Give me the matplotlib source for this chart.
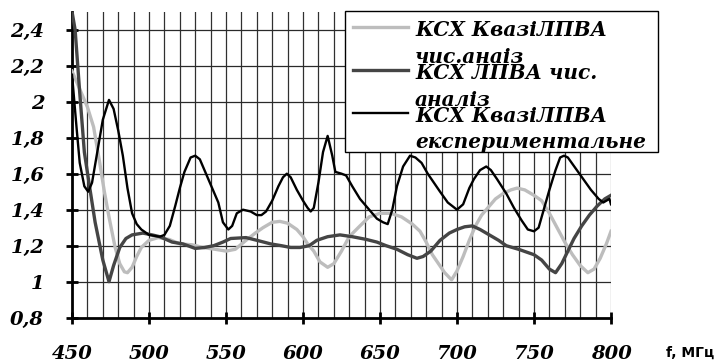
import matplotlib
matplotlib.use("Agg")
import matplotlib.pyplot as plt
from matplotlib.lines import Line2D
from matplotlib.patches import Rectangle

# --- data ---
f_exp = [450, 453, 455, 458, 460.5, 463, 466, 470, 474, 477, 480, 483, 486, 489, 492, 495,
         500, 507, 510, 513.5, 517, 520, 523, 527, 530, 533, 537, 541, 545, 548, 551.5, 554,
         557, 561, 566, 570, 573, 576, 580, 584, 587, 589.5, 592, 596, 600, 603, 605, 607,
         610, 613, 616, 619, 621, 625, 628, 632, 637, 643, 648, 652, 655, 658, 661, 665,
         669.5, 673, 677, 681, 685, 689, 694, 700, 704, 708, 711, 715, 719, 722, 726, 732,
         737, 742, 746, 750, 753, 756, 760, 764, 767, 769.5, 772, 777, 782, 787, 792, 795,
         797, 799, 800]
ksv_exp = [2.15, 1.85, 1.66, 1.53, 1.50, 1.55, 1.70, 1.90, 2.01, 1.96, 1.84, 1.70, 1.52, 1.38,
           1.32, 1.29, 1.26, 1.25, 1.26, 1.31, 1.42, 1.52, 1.61, 1.69, 1.70, 1.68, 1.60, 1.52,
           1.44, 1.33, 1.29, 1.31, 1.38, 1.40, 1.39, 1.37, 1.37, 1.39, 1.45, 1.53, 1.58, 1.60,
           1.58, 1.51, 1.45, 1.41, 1.39, 1.41, 1.55, 1.72, 1.81, 1.70, 1.61, 1.60, 1.59, 1.53,
           1.46, 1.40, 1.35, 1.33, 1.32, 1.40, 1.53, 1.64, 1.70, 1.69, 1.66, 1.60, 1.55, 1.50,
           1.44, 1.40, 1.43, 1.52, 1.57, 1.62, 1.64, 1.62, 1.57, 1.49, 1.41, 1.34, 1.29, 1.28,
           1.30, 1.39, 1.51, 1.62, 1.69, 1.70, 1.69, 1.63, 1.57, 1.51, 1.46, 1.44, 1.45, 1.46,
           1.43]

f_lpva = [450, 452, 455, 458, 461, 465, 470, 474, 477, 481, 485, 489, 496, 502, 507, 515, 522,
          530, 536, 542, 548, 553, 563, 570, 579, 586, 592, 598, 604, 609, 616, 624, 632, 641,
          648, 654, 661, 668, 674, 678, 683, 689, 695, 700, 705, 710, 715, 721, 727, 732, 740,
          750, 755, 760, 764, 768, 772, 776, 781, 786, 791, 796, 800]
ksv_lpva = [2.50, 2.40, 2.05, 1.72, 1.55, 1.33, 1.12, 1.00, 1.09, 1.19, 1.24, 1.26, 1.27, 1.26,
            1.25, 1.22, 1.21, 1.185, 1.19, 1.20, 1.22, 1.24, 1.245, 1.23, 1.21, 1.20, 1.19, 1.19,
            1.20, 1.23, 1.25, 1.26, 1.25, 1.235, 1.22, 1.20, 1.18, 1.15, 1.13, 1.14, 1.17, 1.23,
            1.27, 1.29, 1.305, 1.31, 1.29, 1.26, 1.23, 1.20, 1.18, 1.15, 1.12, 1.07, 1.05, 1.10,
            1.17, 1.24, 1.31, 1.37, 1.42, 1.46, 1.48]

f_kvazi = [450, 455, 460, 464, 468, 471, 474, 478, 481, 484, 486, 489, 492, 495, 500, 506, 513,
           520, 528, 535, 543, 550, 556, 563, 569, 574, 580, 585, 590, 596, 600, 603, 607, 611,
           616, 620, 625, 630, 637, 643, 650, 657, 664, 671, 676, 680, 684, 688, 692, 696.5, 700,
           704, 708, 712, 716, 720, 725, 730, 735, 739, 744, 750, 755, 760, 765, 770, 775, 780,
           785, 789, 793, 797, 800]
ksv_kvazi = [2.17, 2.07, 1.97, 1.86, 1.66, 1.50, 1.36, 1.19, 1.10, 1.055, 1.05, 1.08, 1.14,
             1.19, 1.23, 1.245, 1.235, 1.21, 1.205, 1.19, 1.18, 1.17, 1.18, 1.23, 1.27, 1.30,
             1.33, 1.335, 1.325, 1.29, 1.25, 1.21, 1.17, 1.11, 1.08, 1.10, 1.17, 1.25, 1.31,
             1.36, 1.38, 1.38, 1.36, 1.32, 1.28, 1.22, 1.15, 1.10, 1.05, 1.01, 1.06, 1.14, 1.23,
             1.31, 1.37, 1.41, 1.46, 1.49, 1.51, 1.52, 1.51, 1.48, 1.45, 1.38, 1.30, 1.22, 1.15,
             1.09, 1.05, 1.07, 1.13, 1.21, 1.28]

labels = ["КСХ КвазіЛПВА\nчис.анаіз", "КСХ ЛПВА чис.\nаналіз", "КСХ КвазіЛПВА\nекспериментальне"]
x_ticks = [450, 500, 550, 600, 650, 700, 750, 800]
y_ticks = [0.8, 1.0, 1.2, 1.4, 1.6, 1.8, 2.0, 2.2, 2.4]
y_tick_labels = ["0,8", "1", "1,2", "1,4", "1,6", "1,8", "2", "2,2", "2,4"]

serif = ["DejaVu Serif"]
W, H = 721, 363

fig = plt.figure(figsize=(7.21, 3.63), dpi=100)
ax = fig.add_axes([0.0999, 0.1248, 0.7475, 0.843])

# grid every 10 MHz / 0.2
for xv in range(460, 801, 10):
    ax.axvline(xv, color="#303030" if xv < 800 else "#909090", lw=0.9, zorder=1)
for yv in y_ticks[1:]:
    ax.axhline(yv, color="#2a2a2a", lw=0.9, zorder=1)

c_light, c_dark, c_black = "#bdbdbd", "#454545", "#000000"
ax.plot(f_kvazi, ksv_kvazi, color=c_light, lw=2.4, zorder=3)
ax.plot(f_lpva, ksv_lpva, color=c_dark, lw=2.4, zorder=4)
ax.plot(f_exp, ksv_exp, color=c_black, lw=1.7, zorder=5)

ax.set_xlim(450, 800)
ax.set_ylim(0.8, 2.5)
ax.set_xticks(x_ticks)
ax.set_yticks(y_ticks)
ax.set_yticklabels(y_tick_labels)
for s in ["top", "right"]:
    ax.spines[s].set_visible(False)
for s in ["left", "bottom"]:
    ax.spines[s].set_linewidth(2)
ax.tick_params(direction="inout", length=8, width=2)
ax.tick_params(axis="y", pad=16)
ax.tick_params(axis="x", pad=26)
for lab in ax.get_xticklabels() + ax.get_yticklabels():
    lab.set_fontfamily(serif)
    lab.set_fontweight("bold")
    lab.set_fontstyle("italic")
    lab.set_fontsize(14)
for lab in ax.get_xticklabels():
    lab.set_verticalalignment("baseline")

fig.text(666 / W, 1 - 357 / H, "f, МГц", fontfamily="DejaVu Sans",
         fontweight="bold", fontsize=10, va="baseline", ha="left")

# legend box drawn by hand (pixel layout of the original)
fig.patches.append(Rectangle((345 / W, 1 - 152 / H), (658 - 345) / W, (152 - 11) / H,
                             transform=fig.transFigure, facecolor="white",
                             edgecolor="black", lw=1, zorder=10))
handle_y = [27, 70, 113]
for ypx, col, lw in zip(handle_y, [c_light, c_dark, c_black], [2.4, 2.4, 1.7]):
    fig.add_artist(Line2D([353 / W, 408 / W], [1 - ypx / H] * 2, color=col, lw=lw,
                          transform=fig.transFigure, zorder=11))
line_base = [(36, 63), (79, 106), (122, 148)]
for (b1, b2), lab in zip(line_base, labels):
    l1, l2 = lab.split("\n")
    for b, t in [(b1, l1), (b2, l2)]:
        fig.text(415 / W, 1 - b / H, t, fontfamily=serif, fontweight="bold",
                 fontstyle="italic", fontsize=14.5, va="baseline", ha="left", zorder=12)

fig.savefig("out.png", dpi=100)
